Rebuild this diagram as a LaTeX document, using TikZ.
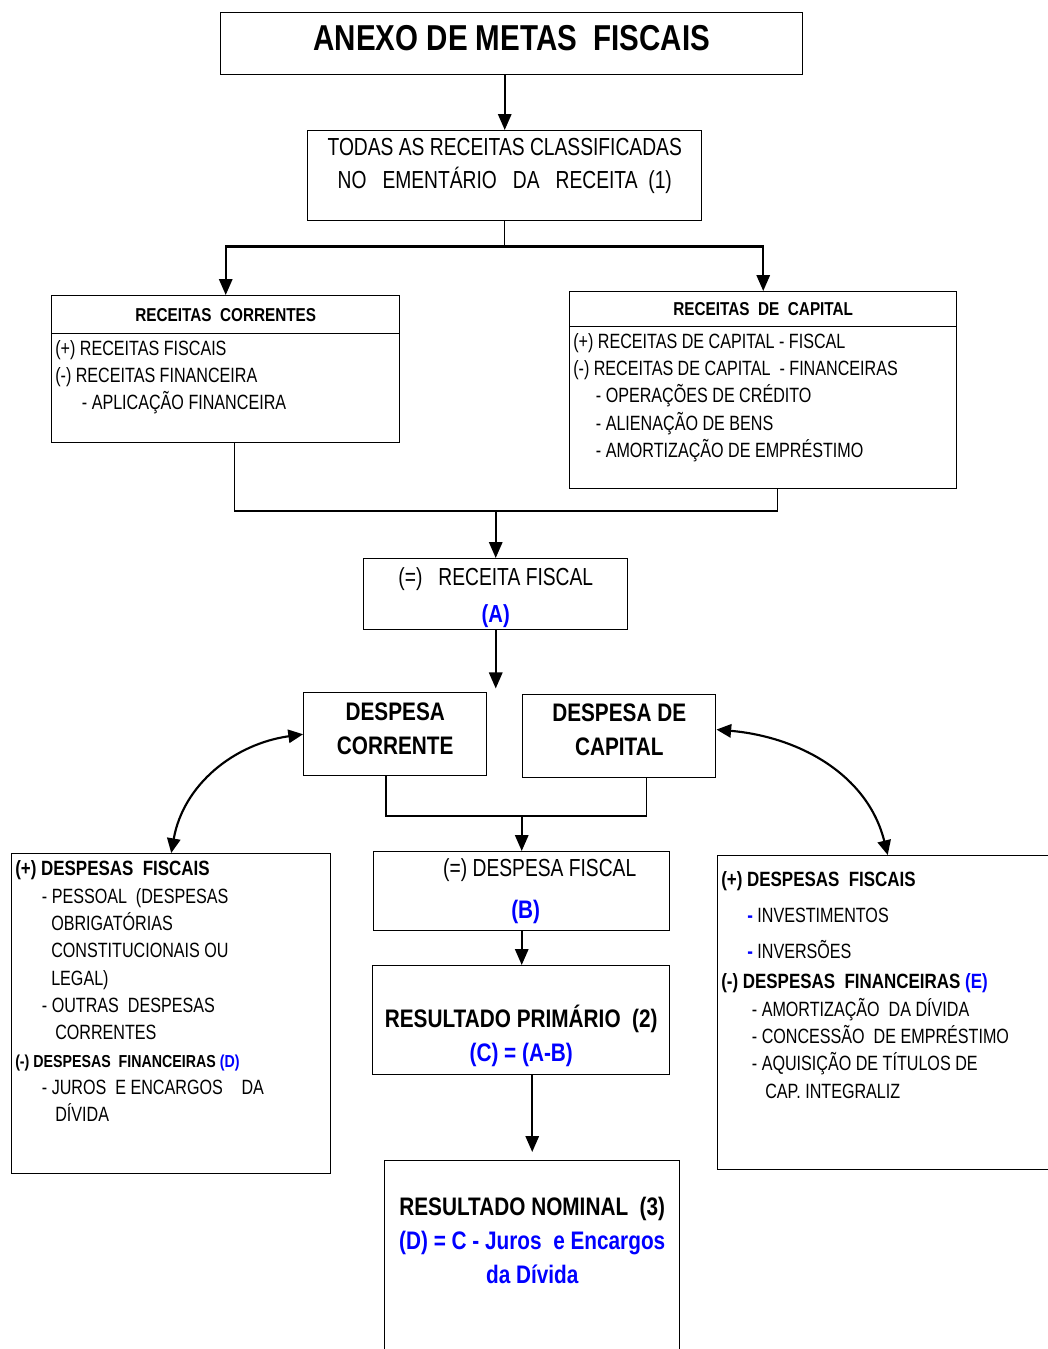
\documentclass[tikz,border=0pt]{standalone}
\usepackage{fontspec}
\setmainfont{Liberation Sans}[FakeStretch=0.78, BoldFeatures={FakeStretch=0.82}]
\usepackage{xcolor}
\usetikzlibrary{positioning,arrows.meta}

\begin{document}
\begin{tikzpicture}[x=0.75pt, y=0.75pt,
    box/.style = {draw, line width=1.1pt, anchor=north west, inner sep=0pt},
    link/.style = {line width=0.9pt},
    flow/.style = {line width=1.6pt, -{Triangle[length=12pt, width=10pt]}},
    both/.style = {line width=1.6pt, {Triangle[length=11pt, width=10pt]}-{Triangle[length=11pt, width=10pt]}},
    txt/.style = {inner sep=0pt, align=left},
    ctxt/.style = {inner sep=0pt, align=center},
    titlef/.style = {font=\fontsize{27}{30}\selectfont\bfseries},
    bigf/.style = {font=\fontsize{18.5}{24.75}\selectfont},
    bigb/.style = {font=\fontsize{19}{25.5}\selectfont\bfseries},
    itemf/.style = {font=\fontsize{15.5}{20.5}\selectfont},
    headf/.style = {font=\fontsize{14}{16}\selectfont\bfseries}]
  \useasboundingbox (0,0) rectangle (1048,-1349);

  \node[box, minimum width=436.5pt, minimum height=46.5pt] (anexo) at (220,-12) {};
  \node[box, minimum width=295.5pt, minimum height=67.5pt] (todas) at (307,-130) {};
  \node[box, minimum width=261pt, minimum height=110.25pt] (rc) at (51,-295) {};
  \node[box, minimum width=261pt, minimum height=28.5pt, headf] (rch) at (rc.north west) {RECEITAS\ \ CORRENTES};
  \node[box, minimum width=290.25pt, minimum height=147.75pt] (rk) at (569,-291) {};
  \node[box, minimum width=290.25pt, minimum height=26.25pt, headf] (rkh) at (rk.north west) {RECEITAS\ \ DE\ \ CAPITAL};
  \node[box, minimum width=198pt, minimum height=53.25pt] (rf) at (363,-558) {};
  \node[box, minimum width=137.25pt, minimum height=62.25pt] (dc) at (303,-692) {};
  \node[box, minimum width=144.75pt, minimum height=62.25pt] (dk) at (522,-694) {};
  \node[box, minimum width=222pt, minimum height=59.25pt] (df) at (373,-851) {};
  \node[box, minimum width=222.75pt, minimum height=81.75pt] (rp) at (372,-965) {};
  \node[box, minimum width=221.25pt, minimum height=165pt] (rn) at (384,-1160) {};
  \node[box, minimum width=239.25pt, minimum height=240pt] (dfl) at (11,-853) {};
  \node[box, minimum width=255pt, minimum height=235.5pt] (dfr) at (717,-855) {};

  \node[ctxt, titlef, below=28.5pt of anexo.north, anchor=base] (anexot) {ANEXO DE METAS\ \ FISCAIS};
  \node[ctxt, bigf, below=43.5pt of todas.north, anchor=base] (todast)
    {TODAS AS RECEITAS CLASSIFICADAS\\NO\ \ \ EMENTÁRIO\ \ \ DA\ \ \ RECEITA\ \ (1)};
  \node[txt, itemf, below right=86pt and 3pt of rc.north west, anchor=base west] (rct)
    {(+) RECEITAS FISCAIS\\(-) RECEITAS FINANCEIRA\\\hspace*{20pt}- APLICAÇÃO FINANCEIRA};
  \node[txt, itemf, below right=124.75pt and 3pt of rk.north west, anchor=base west] (rkt)
    {(+) RECEITAS DE CAPITAL - FISCAL\\(-) RECEITAS DE CAPITAL\ \ - FINANCEIRAS\\
     \hspace*{17pt}- OPERAÇÕES DE CRÉDITO\\\hspace*{17pt}- ALIENAÇÃO DE BENS\\
     \hspace*{17pt}- AMORTIZAÇÃO DE EMPRÉSTIMO};
  \node[ctxt, bigf, below=48pt of rf.north, anchor=base] (rft)
    {(=)\ \ \ RECEITA FISCAL\\[3pt]\textcolor{blue}{\bfseries (A)}};
  \node[ctxt, bigb, below=46.5pt of dc.north, anchor=base] (dct) {DESPESA\\CORRENTE};
  \node[ctxt, bigb, below=46pt of dk.north, anchor=base] (dkt) {DESPESA DE\\CAPITAL};
  \node[ctxt, bigf, below=18.75pt of df.north, xshift=13.5pt, anchor=base] (dft) {(=) DESPESA FISCAL};
  \node[ctxt, bigb, blue, below=50.25pt of df.north, xshift=3pt, anchor=base] (dfb) {(B)};
  \node[ctxt, bigb, below=72pt of rp.north, anchor=base] (rpt)
    {RESULTADO PRIMÁRIO\ \ (2)\\\textcolor{blue}{(C) = (A-B)}};
  \node[ctxt, bigb, below=92.25pt of rn.north, anchor=base] (rnt)
    {RESULTADO NOMINAL\ \ (3)\\\textcolor{blue}{(D) = C - Juros\ \ e Encargos}\\\textcolor{blue}{da Dívida}};
  \node[txt, itemf, below right=201.5pt and 3pt of dfl.north west, anchor=base west] (dflt)
    {\textbf{(+) DESPESAS\ \ FISCAIS}\\
     \hspace*{20pt}- PESSOAL\ \ (DESPESAS\\
     \hspace*{27pt}OBRIGATÓRIAS\\
     \hspace*{27pt}CONSTITUCIONAIS OU\\
     \hspace*{27pt}LEGAL)\\
     \hspace*{20pt}- OUTRAS\ \ DESPESAS\\
     \hspace*{30pt}CORRENTES\\
     {\bfseries\fontsize{13}{20.5}\selectfont (-) DESPESAS\ \ FINANCEIRAS \textcolor{blue}{(D)}}\\
     \hspace*{20pt}- JUROS\ \ E ENCARGOS\hspace{14pt}DA\\
     \hspace*{30pt}DÍVIDA};
  \node[txt, itemf, below right=182.25pt and 3pt of dfr.north west, anchor=base west] (dfrt)
    {\textbf{(+) DESPESAS\ \ FISCAIS}\\[7pt]
     \hspace*{19.5pt}{\color{blue}\bfseries -}\ INVESTIMENTOS\\[6.5pt]
     \hspace*{19.5pt}{\color{blue}\bfseries -}\ INVERSÕES\\[2pt]
     \textbf{(-) DESPESAS\ \ FINANCEIRAS \textcolor{blue}{(E)}}\\
     \hspace*{23pt}- AMORTIZAÇÃO\ \ DA DÍVIDA\\
     \hspace*{23pt}- CONCESSÃO\ \ DE EMPRÉSTIMO\\
     \hspace*{23pt}- AQUISIÇÃO DE TÍTULOS DE\\
     \hspace*{33pt}CAP. INTEGRALIZ};

  \draw[flow] (todas.north |- anexo.south) -- (todas.north);
  \draw[link] (todas.south) -- ++(0,-25) coordinate (rsplit);
  \draw[flow] (rsplit) -| (rch.north);
  \draw[flow] (rsplit) -| (rkh.north);
  \path (rf.north) ++(0,47) coordinate (rjoin);
  \draw[link] ([xshift=6.75pt]rc.south) |- (rjoin) -| ([xshift=10.9pt]rk.south);
  \draw[flow] (rjoin) -- (rf.north);
  \draw[flow] (rf.south) -- ++(0,-58) coordinate (dgap);
  \path (df.north) ++(0,35) coordinate (djoin);
  \draw[link] ([xshift=-7pt]dc.south) |- (djoin) -| ([xshift=20.6pt]dk.south);
  \draw[flow] (djoin) -- (df.north);
  \draw[flow] (df.south) -- (df.south |- rp.north);
  \draw[flow, shorten >=6pt] (rn.north |- rp.south) -- (rn.north);
  \draw[both] (dc.west) to[out=188, in=80] (dfl.north);
  \draw[both] ([yshift=5pt]dk.east) to[out=-5, in=104] (dfr.north);
\end{tikzpicture}
\end{document}
